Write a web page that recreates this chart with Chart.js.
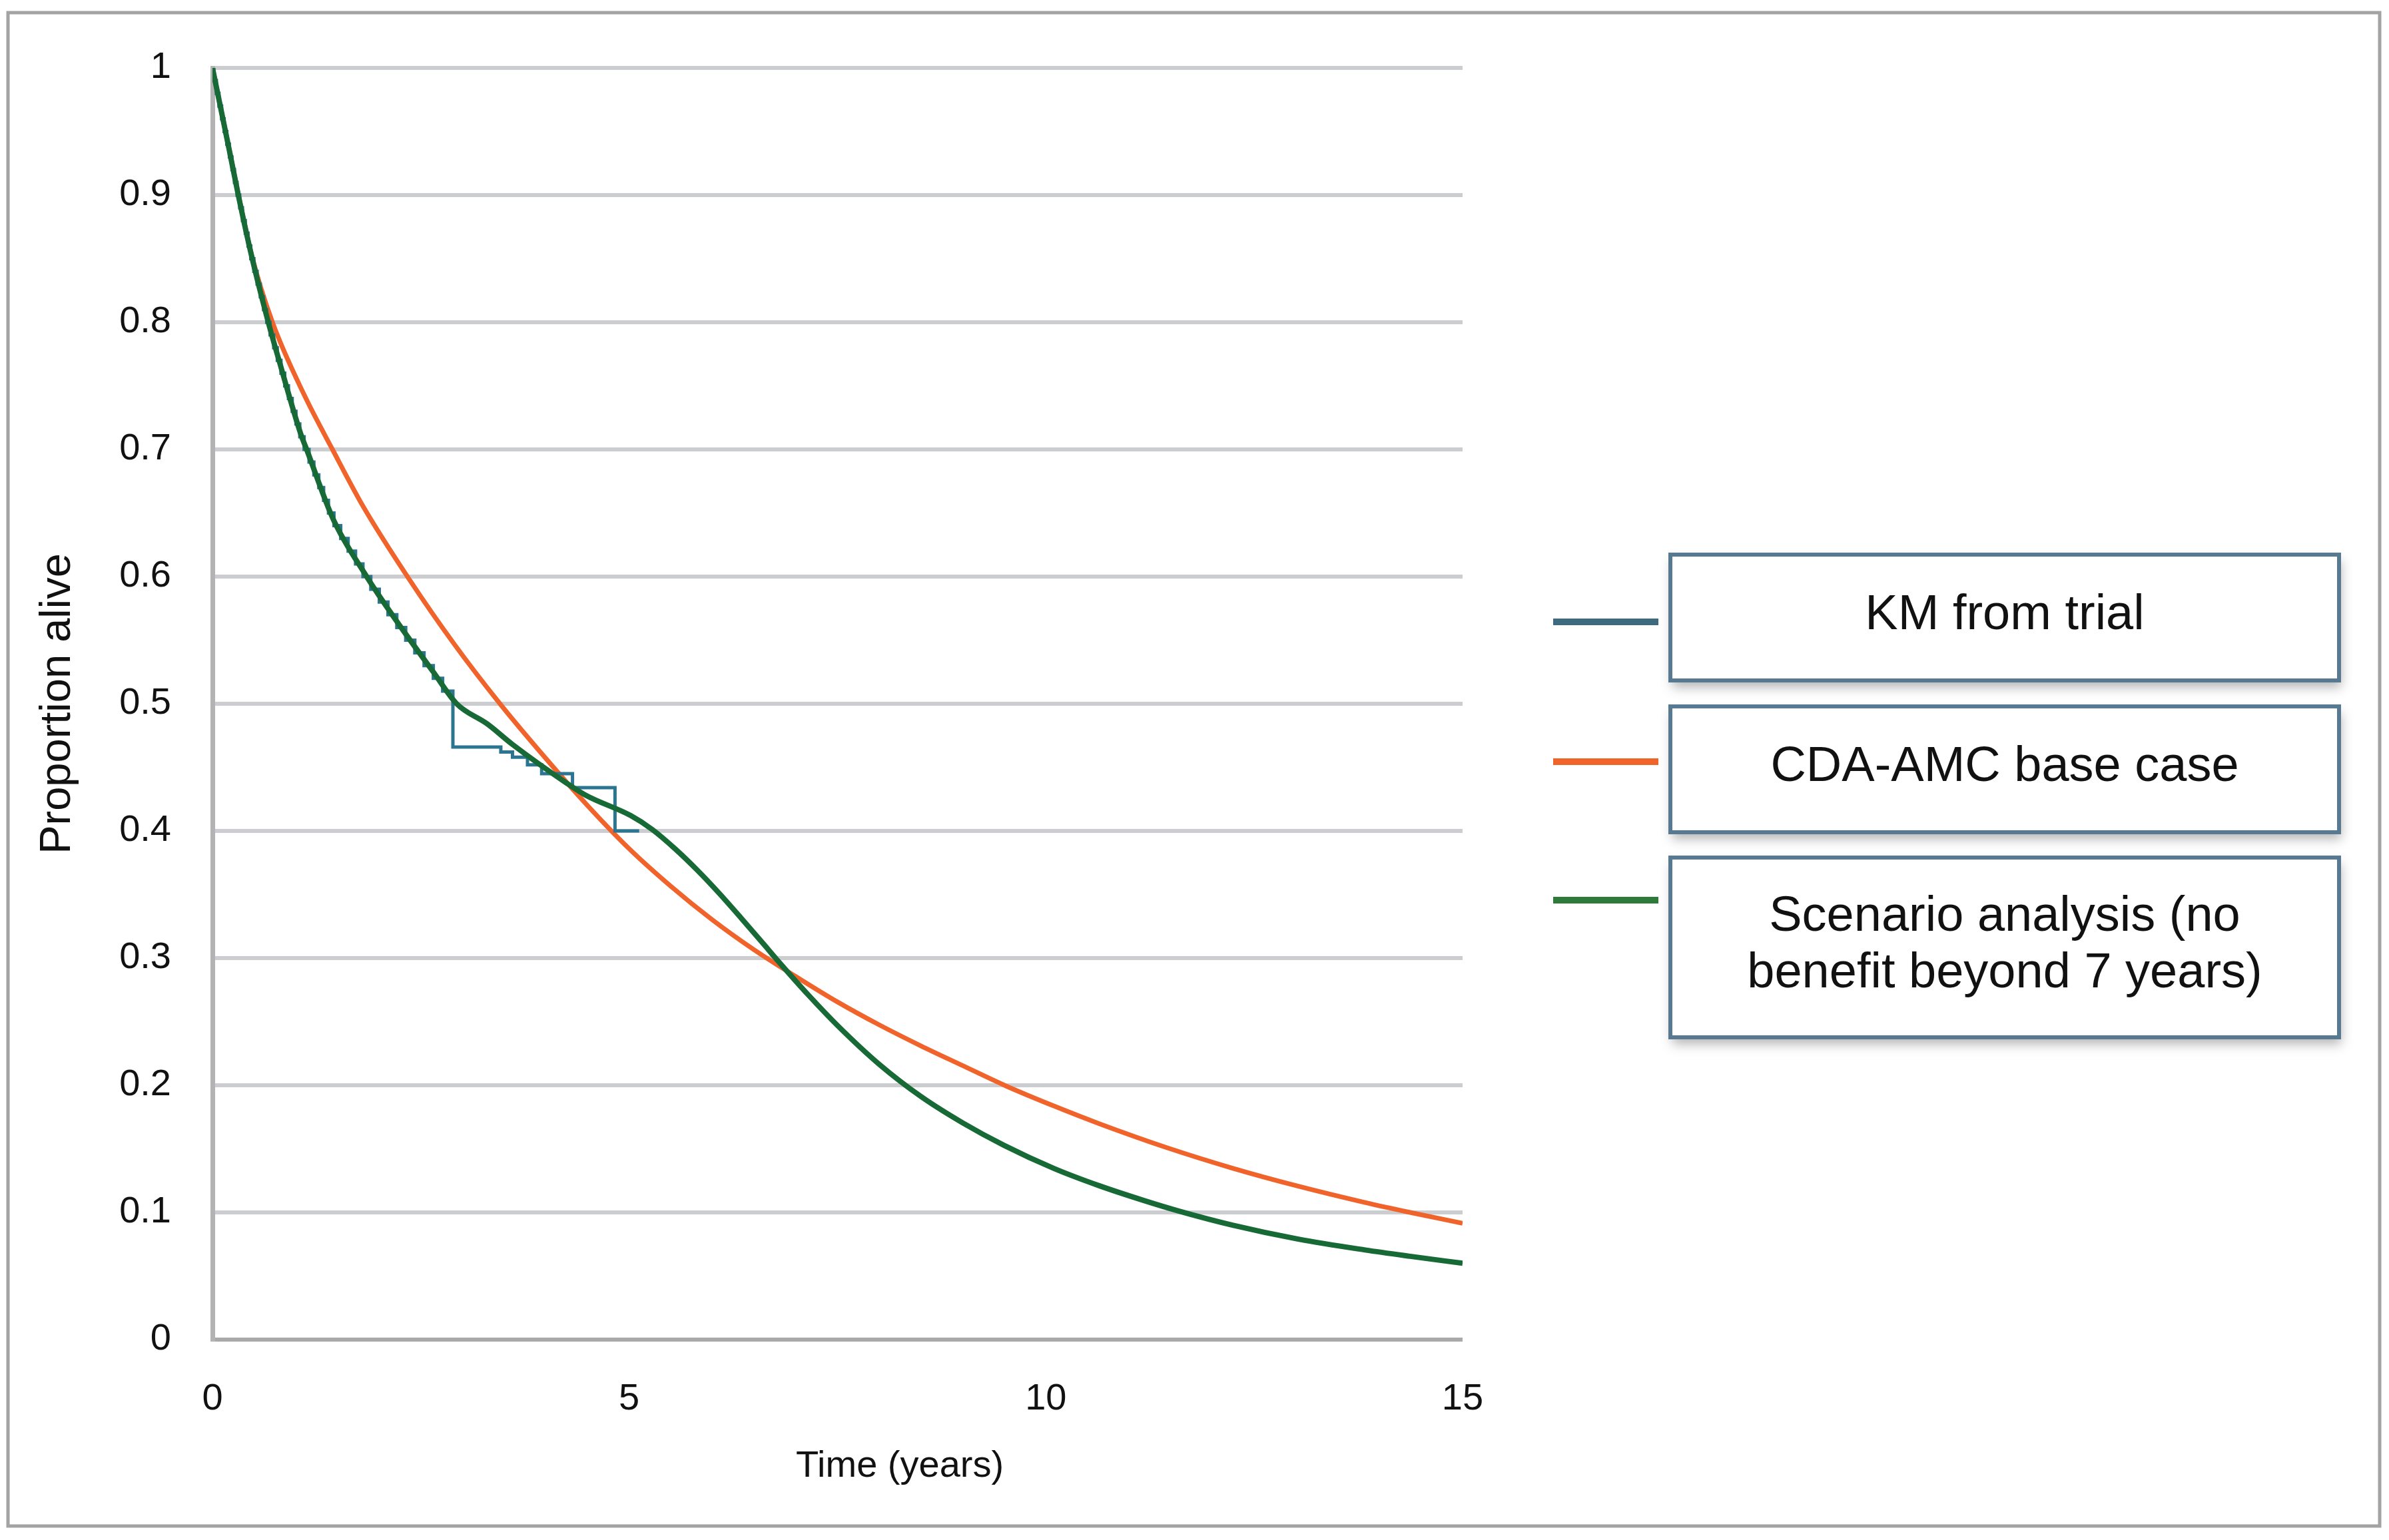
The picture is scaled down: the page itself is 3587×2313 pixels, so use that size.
<!doctype html>
<html lang="en">
<head>
  <meta charset="UTF-8">
  <title>Proportion alive over time</title>
  <script src="https://cdn.jsdelivr.net/npm/chart.js"></script>
  <style>
    html, body {
      margin: 0;
      padding: 0;
      background: #fff;
    }
    #chart {
      display: block;
    }
  </style>
</head>
<body>
<canvas id="chart" width="3587" height="2313"></canvas>
<script>
  // series labels (legend boxes wrap the last one over two lines)
  const seriesLabels = ['KM from trial', 'CDA-AMC base case', 'Scenario analysis (no benefit beyond 7 years)'];
  const legendText = [['KM from trial'], ['CDA-AMC base case'], ['Scenario analysis (no', 'benefit beyond 7 years)']];

  // Kaplan-Meier from trial (step function)
  const kmTimes = [0, 0.016, 0.047, 0.078, 0.11, 0.14, 0.172, 0.203, 0.234, 0.264, 0.295, 0.327, 0.36, 0.394, 0.427, 0.46, 0.497, 0.536, 0.574, 0.613, 0.651, 0.692, 0.735, 0.778, 0.822, 0.867, 0.912, 0.957, 1.002, 1.048, 1.10, 1.159, 1.217, 1.276, 1.334, 1.392, 1.458, 1.539, 1.628, 1.717, 1.806, 1.90, 2.002, 2.106, 2.212, 2.319, 2.428, 2.539, 2.65, 2.762, 2.885, 3.46, 3.6, 3.78, 3.95, 4.32, 4.83, 5.12];
  const kmValues = [1.0, 0.99, 0.98, 0.97, 0.96, 0.95, 0.94, 0.93, 0.92, 0.91, 0.90, 0.89, 0.88, 0.87, 0.86, 0.85, 0.84, 0.83, 0.82, 0.81, 0.80, 0.79, 0.78, 0.77, 0.76, 0.75, 0.74, 0.73, 0.72, 0.71, 0.70, 0.69, 0.68, 0.67, 0.66, 0.65, 0.64, 0.63, 0.62, 0.61, 0.60, 0.59, 0.58, 0.57, 0.56, 0.55, 0.54, 0.53, 0.52, 0.51, 0.466, 0.462, 0.458, 0.452, 0.445, 0.434, 0.40, 0.40];

  // CDA-AMC base case
  const baseTimes = [0, 0.2, 0.47, 0.72, 1.1, 1.44, 1.81, 2.36, 2.9, 3.45, 4.0, 4.5, 5.0, 5.5, 6.0, 6.5, 7.0, 7.5, 8.0, 8.5, 9.0, 9.52, 10.1, 10.64, 11.44, 12.24, 13.03, 13.83, 14.37, 15];
  const baseValues = [1.0, 0.936, 0.853, 0.80, 0.743, 0.70, 0.655, 0.598, 0.547, 0.50, 0.457, 0.420, 0.386, 0.3565, 0.330, 0.3065, 0.2855, 0.2655, 0.2475, 0.231, 0.2155, 0.1995, 0.1836, 0.1698, 0.1512, 0.1348, 0.1206, 0.1078, 0.1000, 0.0915];

  // Scenario analysis (no benefit beyond 7 years)
  const scenTimes = [0, 0.2, 0.31, 0.47, 0.67, 0.79, 1.06, 1.13, 1.45, 1.85, 2.0, 2.35, 2.65, 2.93, 3.3, 3.6, 4.24, 4.48, 5.02, 5.28, 5.55, 5.82, 6.08, 6.35, 6.62, 6.75, 7.15, 7.5, 8.0, 8.5, 9.0, 9.5, 10.1, 10.64, 11.17, 11.6, 12.24, 13.03, 13.83, 14.37, 15];
  const scenValues = [1.0, 0.936, 0.90, 0.852, 0.80, 0.772, 0.712, 0.70, 0.645, 0.60, 0.585, 0.552, 0.525, 0.50, 0.484, 0.468, 0.438, 0.428, 0.412, 0.401, 0.386, 0.369, 0.351, 0.331, 0.3105, 0.3005, 0.271, 0.247, 0.2165, 0.1912, 0.1705, 0.1527, 0.1345, 0.121, 0.1095, 0.101, 0.090, 0.079, 0.0705, 0.0655, 0.060];

  // axis ticks
  const xTicks = [0, 5, 10, 15];
  const yTicks = [0, 0.1, 0.2, 0.3, 0.4, 0.5, 0.6, 0.7, 0.8, 0.9, 1];
  const yTickLabels = ['0', '0.1', '0.2', '0.3', '0.4', '0.5', '0.6', '0.7', '0.8', '0.9', '1'];

  const FONT = '"Liberation Sans", Arial, Helvetica, sans-serif';
  const toPoints = (xs, ys) => xs.map((x, i) => ({ x: x, y: ys[i] }));

  // frame around the whole figure
  const framePlugin = {
    id: 'frame',
    beforeDraw(chart) {
      const ctx = chart.ctx;
      ctx.save();
      ctx.fillStyle = '#fff';
      ctx.fillRect(0, 0, chart.width, chart.height);
      ctx.strokeStyle = '#a3a3a3';
      ctx.lineWidth = 5;
      ctx.strokeRect(12, 19, 3561, 2273);
      ctx.restore();
    }
  };

  // boxed legend on the right + x axis title
  const boxLegendPlugin = {
    id: 'boxLegend',
    afterDraw(chart) {
      const ctx = chart.ctx;
      const boxLeft = 2508, boxRight = 3512;
      const boxTops = [833, 1061, 1288];
      const boxBottoms = [1022, 1250, 1558];
      const sampleY = [934, 1144, 1352];
      ctx.save();
      chart.data.datasets.forEach((ds, i) => {
        const top = boxTops[i], bottom = boxBottoms[i];
        // shadowed box
        ctx.save();
        ctx.shadowColor = 'rgba(40, 40, 40, 0.35)';
        ctx.shadowBlur = 16;
        ctx.shadowOffsetX = 3;
        ctx.shadowOffsetY = 10;
        ctx.fillStyle = '#fff';
        ctx.fillRect(boxLeft, top, boxRight - boxLeft, bottom - top);
        ctx.restore();
        ctx.strokeStyle = '#587992';
        ctx.lineWidth = 6;
        ctx.strokeRect(boxLeft, top, boxRight - boxLeft, bottom - top);

        // line sample
        ctx.strokeStyle = ds.legendColor || ds.borderColor;
        ctx.lineWidth = 10;
        ctx.beginPath();
        ctx.moveTo(2332, sampleY[i]);
        ctx.lineTo(2490, sampleY[i]);
        ctx.stroke();

        // text
        const lines = legendText[i];
        const lh = 85;
        const cy = (top + bottom) / 2 - 3;
        ctx.fillStyle = '#111';
        ctx.font = '74px ' + FONT;
        ctx.textAlign = 'center';
        ctx.textBaseline = 'middle';
        lines.forEach((t, j) => {
          ctx.fillText(t, (boxLeft + boxRight) / 2, cy + (j - (lines.length - 1) / 2) * lh);
        });
      });

      // x axis title (sits right of the plot centre in the original)
      ctx.fillStyle = '#111';
      ctx.font = '56px ' + FONT;
      ctx.textAlign = 'center';
      ctx.textBaseline = 'middle';
      ctx.fillText('Time (years)', 1351, 2203);
      ctx.restore();
    }
  };

  const chart = new Chart(document.getElementById('chart').getContext('2d'), {
    type: 'line',
    data: {
      datasets: [
        {
          label: seriesLabels[0],
          data: toPoints(kmTimes, kmValues),
          borderColor: '#2c7591',
          legendColor: '#3d6a7f',
          borderWidth: 5,
          stepped: true,
          pointRadius: 0,
          fill: false,
          order: 1
        },
        {
          label: seriesLabels[1],
          data: toPoints(baseTimes, baseValues),
          borderColor: '#f0642c',
          borderWidth: 7,
          cubicInterpolationMode: 'monotone',
          pointRadius: 0,
          fill: false,
          order: 2
        },
        {
          label: seriesLabels[2],
          data: toPoints(scenTimes, scenValues),
          borderColor: '#176a36',
          legendColor: '#2e7a3a',
          borderWidth: 8,
          cubicInterpolationMode: 'monotone',
          pointRadius: 0,
          fill: false,
          order: 0
        }
      ]
    },
    options: {
      responsive: false,
      devicePixelRatio: 1,
      animation: false,
      layout: {
        padding: { left: 0, top: 102, right: 1391, bottom: 0 }
      },
      plugins: {
        legend: { display: false },
        tooltip: { enabled: false }
      },
      scales: {
        x: {
          type: 'linear',
          min: 0,
          max: 15,
          afterBuildTicks: scale => { scale.ticks = xTicks.map(v => ({ value: v })); },
          afterFit: scale => { scale.height = 301; },
          grid: { display: false, drawTicks: false },
          border: { display: false },
          ticks: {
            padding: 56,
            maxRotation: 0,
            autoSkip: false,
            color: '#111',
            font: { family: FONT, size: 56 }
          }
        },
        y: {
          min: 0,
          max: 1,
          afterBuildTicks: scale => { scale.ticks = yTicks.map(v => ({ value: v })); },
          afterFit: scale => { scale.width = 319; },
          grid: {
            color: ctx => (ctx.tick && ctx.tick.value === 0 ? '#a9a9a9' : '#cbcdd0'),
            lineWidth: 6,
            drawTicks: false
          },
          border: { display: true, color: '#b3b3b3', width: 7 },
          ticks: {
            padding: 62,
            autoSkip: false,
            color: '#111',
            font: { family: FONT, size: 56 },
            callback: (value, index) => yTickLabels[index]
          },
          title: {
            display: true,
            text: 'Proportion alive',
            color: '#111',
            font: { family: FONT, size: 65 },
            padding: { top: 48, bottom: 0 }
          }
        }
      }
    },
    plugins: [framePlugin, boxLegendPlugin]
  });
</script>
</body>
</html>
